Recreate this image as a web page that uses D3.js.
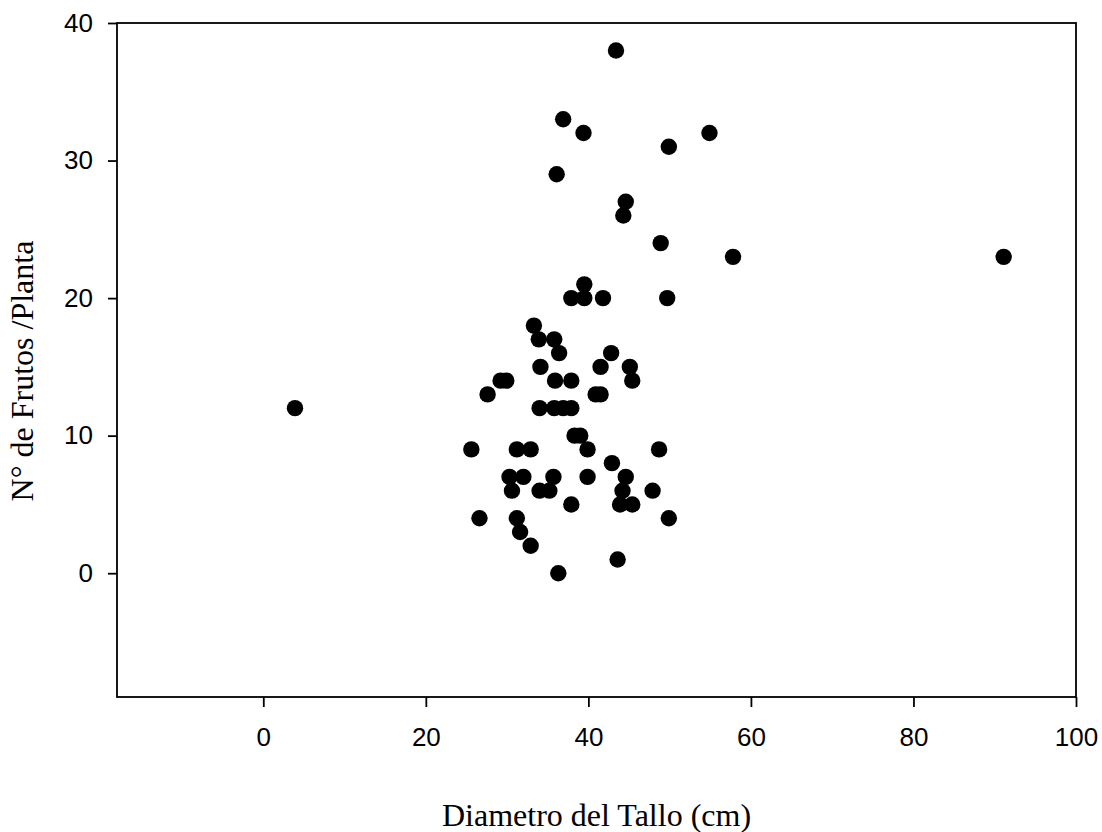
<!DOCTYPE html>
<html>
<head>
<meta charset="utf-8">
<script src="https://cdn.jsdelivr.net/npm/d3@7"></script>
<style>
  body { margin: 0; background: #fff; }
</style>
</head>
<body>
<script>
// diametro del tallo (cm) and frutos per planta
var diametro = [43.4, 36.9, 39.4, 54.9, 49.9, 36.1, 44.6, 44.3, 48.9, 57.8,
	91.1, 39.5, 37.9, 39.5, 41.8, 49.7, 33.3, 33.9, 35.8, 36.4,
	42.8, 34.1, 41.5, 45.1, 29.2, 29.9, 35.9, 37.9, 45.4, 27.6,
	40.9, 41.5, 3.9, 34.0, 35.8, 36.9, 37.9, 38.3, 39.0, 25.6,
	31.2, 32.9, 39.9, 48.7, 42.9, 30.3, 32.0, 35.7, 39.9, 44.6,
	30.6, 34.0, 35.2, 44.2, 47.9, 37.9, 43.9, 45.4, 26.6, 31.2,
	49.9, 31.6, 32.9, 43.6, 36.3];
var frutos = [38, 33, 32, 32, 31, 29, 27, 26, 24, 23,
	23, 21, 20, 20, 20, 20, 18, 17, 17, 16,
	16, 15, 15, 15, 14, 14, 14, 14, 14, 13,
	13, 13, 12, 12, 12, 12, 12, 10, 10, 9,
	9, 9, 9, 9, 8, 7, 7, 7, 7, 7,
	6, 6, 6, 6, 6, 5, 5, 5, 4, 4,
	4, 3, 2, 1, 0];
var xTicks = [0, 20, 40, 60, 80, 100];
var yTicks = [0, 10, 20, 30, 40];

var points = diametro.map(function(d, i) { return {x: d, y: frutos[i]}; });

var W = 1102, H = 832;
var m = {left: 117, right: 1076, top: 23, bottom: 697}; // plot box edges

var svg = d3.select("body").append("svg")
	.attr("width", W)
	.attr("height", H);

var x = d3.scaleLinear().domain([-18, 100]).range([m.left, m.right]);
var y = d3.scaleLinear().domain([-9, 40]).range([m.bottom, m.top]);

// frame
svg.append("rect")
	.attr("x", m.left).attr("y", m.top)
	.attr("width", m.right - m.left).attr("height", m.bottom - m.top)
	.style("fill", "none")
	.style("stroke", "#000")
	.style("stroke-width", 1.8);

var xAxis = svg.append("g")
	.attr("transform", "translate(0," + m.bottom + ")")
	.call(d3.axisBottom(x).tickValues(xTicks).tickSize(10).tickPadding(21).tickSizeOuter(0));

var yAxis = svg.append("g")
	.attr("transform", "translate(" + m.left + ",0)")
	.call(d3.axisLeft(y).tickValues(yTicks).tickSize(9).tickPadding(15).tickSizeOuter(0));

[xAxis, yAxis].forEach(function(a) {
	a.select(".domain").remove();
	a.selectAll("line").style("stroke", "#000").style("stroke-width", 1.8);
	a.selectAll("text")
		.style("font-family", "Liberation Sans, Arial, sans-serif")
		.style("font-size", "26px")
		.style("fill", "#000");
});

svg.selectAll("circle")
	.data(points)
	.enter()
	.append("circle")
	.attr("cx", function(d) { return x(d.x); })
	.attr("cy", function(d) { return y(d.y); })
	.attr("r", 8.2)
	.style("fill", "#000");

svg.append("text")
	.attr("x", (m.left + m.right) / 2)
	.attr("y", 826)
	.attr("text-anchor", "middle")
	.style("font-family", "Liberation Serif, Times New Roman, serif")
	.style("font-size", "32px")
	.text("Diametro del Tallo (cm)");

svg.append("text")
	.attr("transform", "translate(33," + 371 + ") rotate(-90)")
	.attr("text-anchor", "middle")
	.style("font-family", "Liberation Serif, Times New Roman, serif")
	.style("font-size", "32px")
	.text("N° de Frutos /Planta");
</script>
</body>
</html>
